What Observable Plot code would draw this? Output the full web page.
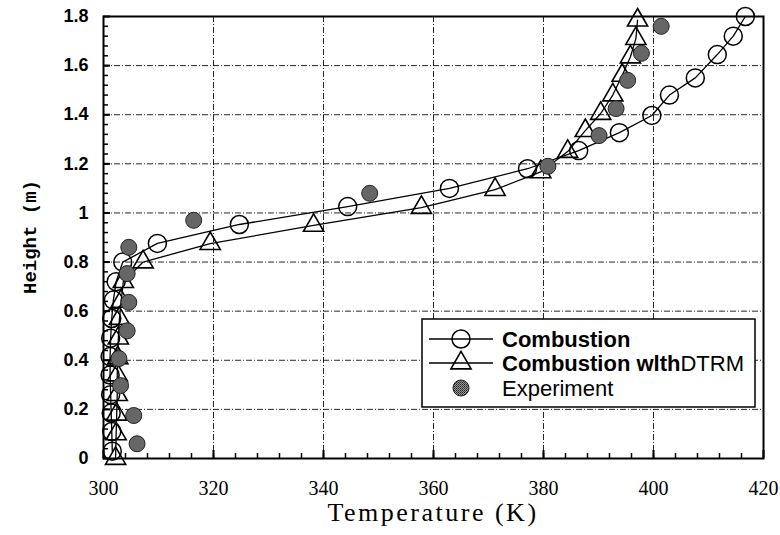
<!DOCTYPE html>
<html><head><meta charset="utf-8">
<script src="https://cdn.jsdelivr.net/npm/d3@7"></script>
<script src="https://cdn.jsdelivr.net/npm/@observablehq/plot@0.6"></script>
<style>body{margin:0;background:#fff}</style>
</head><body><div id="chart"></div>
<script>
// Temperature ticks (K) and height ticks (m)
const tempTicks = [300, 320, 340, 360, 380, 400, 420];
const heightTicks = [0, 0.2, 0.4, 0.6, 0.8, 1, 1.2, 1.4, 1.6, 1.8];

// Combustion (open circles)
const combT = [301.6, 301.5, 301.4, 301.3, 301.2, 301.2, 301.3, 301.5, 301.8, 302.3, 303.5, 309.8, 324.7, 344.4, 362.9, 377.1, 386.4, 393.8, 399.7, 402.9, 407.6, 411.6, 414.5, 416.7];
const combH = [0.03, 0.11, 0.185, 0.26, 0.34, 0.415, 0.49, 0.57, 0.645, 0.72, 0.80, 0.876, 0.953, 1.026, 1.10, 1.18, 1.254, 1.327, 1.397, 1.48, 1.55, 1.645, 1.72, 1.80];

// Combustion with DTRM (open triangles)
const dtrmT = [302.2, 302.3, 302.4, 302.5, 302.5, 302.6, 302.7, 302.9, 303.2, 303.6, 307.2, 319.4, 338.2, 357.8, 371.2, 379.5, 384.4, 387.6, 390.4, 392.6, 394.3, 395.8, 396.8, 397.1];
const dtrmH = [0.0, 0.10, 0.18, 0.26, 0.34, 0.41, 0.49, 0.57, 0.64, 0.72, 0.80, 0.875, 0.949, 1.022, 1.095, 1.167, 1.25, 1.335, 1.405, 1.48, 1.56, 1.635, 1.71, 1.785];

// Experiment (filled dots)
const expT = [306.1, 305.5, 303.1, 302.8, 304.3, 304.6, 304.3, 304.6, 316.4, 348.4, 380.8, 390.1, 393.2, 395.3, 397.8, 401.4];
const expH = [0.06, 0.175, 0.297, 0.407, 0.52, 0.636, 0.753, 0.86, 0.97, 1.08, 1.19, 1.315, 1.425, 1.54, 1.65, 1.76];

const legendLabels = ["Combustion", "Combustion wlth", "DTRM", "Experiment"];

const comb = combT.map((t, i) => ({t, h: combH[i]}));
const dtrm = dtrmT.map((t, i) => ({t, h: dtrmH[i]}));
const exp = expT.map((t, i) => ({t, h: expH[i]}));

const gridStyle = {stroke: "black", strokeOpacity: 0.85, strokeWidth: 1, strokeDasharray: "6,2,1,2"};

const chart = Plot.plot({
  width: 780, height: 535,
  marginLeft: 103, marginRight: 17, marginTop: 16, marginBottom: 77,
  style: {background: "white", color: "black"},
  x: {domain: [300, 420]},
  y: {domain: [0, 1.8]},
  marks: [
    Plot.gridX({ticks: tempTicks.slice(1, -1), ...gridStyle}),
    Plot.gridY({ticks: heightTicks.slice(1, -1), ...gridStyle}),
    // minor and major inward ticks
    Plot.axisX({ticks: d3.range(304, 420, 4), tickSize: -5, tickFormat: () => "", label: null, strokeWidth: 1.5}),
    Plot.axisX({ticks: tempTicks, tickSize: -8, tickFormat: () => "", label: null, strokeWidth: 2}),
    Plot.axisY({ticks: d3.range(0.04, 1.8, 0.04), tickSize: -5, tickFormat: () => "", label: null, strokeWidth: 1.5}),
    Plot.axisY({ticks: heightTicks, tickSize: -7, tickFormat: () => "", label: null, strokeWidth: 2}),
    // tick labels
    Plot.axisX({ticks: tempTicks, tickSize: 0, tickPadding: 22, label: null,
      fontFamily: "Liberation Serif", fontSize: 20, fill: "black"}),
    Plot.axisY({ticks: heightTicks, tickSize: 0, tickPadding: 15, label: null,
      tickFormat: d => String(d), fontFamily: "Liberation Sans", fontWeight: "bold", fontSize: 18, fill: "black"}),
    Plot.line(comb, {x: "t", y: "h", stroke: "black", strokeWidth: 1.3}),
    Plot.line(dtrm, {x: "t", y: "h", stroke: "black", strokeWidth: 1.3}),
    Plot.dot(comb, {x: "t", y: "h", r: 9, stroke: "black", fill: "none", strokeWidth: 1.5}),
    Plot.dot(dtrm, {x: "t", y: "h", symbol: "triangle", r: 7.5, stroke: "black", fill: "none", strokeWidth: 1.6}),
    Plot.dot(exp, {x: "t", y: "h", r: 8, stroke: "#222", fill: "url(#stip)", strokeWidth: 1}),
    Plot.frame({stroke: "black", strokeWidth: 2})
  ]
});

document.getElementById("chart").appendChild(chart);

const svg = d3.select(chart);
const defs = svg.insert("defs", ":first-child");
const pat = defs.append("pattern").attr("id", "stip").attr("patternUnits", "userSpaceOnUse")
  .attr("width", 2).attr("height", 2);
pat.append("rect").attr("width", 2).attr("height", 2).attr("fill", "#999");
pat.append("rect").attr("width", 1).attr("height", 1).attr("fill", "#222");
pat.append("rect").attr("x", 1).attr("y", 1).attr("width", 1).attr("height", 1).attr("fill", "#444");

// axis titles
svg.append("text").attr("x", 433).attr("y", 521).attr("text-anchor", "middle")
  .attr("font-family", "Liberation Serif").attr("font-size", 26)
  .attr("letter-spacing", 2.5)
  .attr("fill", "black").text("Temperature (K)");
svg.append("text").attr("transform", "translate(31,237) rotate(-90)").attr("text-anchor", "middle")
  .attr("dominant-baseline", "central")
  .attr("font-family", "Liberation Mono").attr("font-weight", "bold").attr("font-size", 19)
  .attr("fill", "black").text("Height (m)");

// legend
const lg = svg.append("g").attr("text-anchor", "start");
lg.append("rect").attr("x", 422).attr("y", 319).attr("width", 333).attr("height", 88)
  .attr("fill", "white").attr("stroke", "black").attr("stroke-width", 1.5);
const rows = [339, 363, 388];
const font = "Liberation Sans";
[0, 1].forEach(i => {
  lg.append("line").attr("x1", 429).attr("x2", 493).attr("y1", rows[i]).attr("y2", rows[i])
    .attr("stroke", "black").attr("stroke-width", 1.3);
});
lg.append("circle").attr("cx", 461).attr("cy", rows[0]).attr("r", 9)
  .attr("fill", "none").attr("stroke", "black").attr("stroke-width", 1.5);
lg.append("path").attr("d", d3.symbol(d3.symbolTriangle, Math.PI * 7.5 * 7.5)())
  .attr("transform", `translate(461,${rows[1]})`)
  .attr("fill", "none").attr("stroke", "black").attr("stroke-width", 1.6);
lg.append("circle").attr("cx", 461).attr("cy", rows[2]).attr("r", 8)
  .attr("fill", "url(#stip)").attr("stroke", "#222");
lg.append("text").attr("x", 502).attr("y", rows[0]).attr("dominant-baseline", "central")
  .attr("text-anchor", "start")
  .attr("font-family", font).attr("font-size", 22).attr("font-weight", "bold").text(legendLabels[0]);
const t2 = lg.append("text").attr("x", 502).attr("y", rows[1]).attr("dominant-baseline", "central")
  .attr("text-anchor", "start")
  .attr("font-family", font).attr("font-size", 22);
t2.append("tspan").attr("font-weight", "bold").text(legendLabels[1]);
t2.append("tspan").text(legendLabels[2]);
lg.append("text").attr("x", 502).attr("y", rows[2]).attr("dominant-baseline", "central")
  .attr("text-anchor", "start")
  .attr("font-family", font).attr("font-size", 22).text(legendLabels[3]);
</script></body></html>
